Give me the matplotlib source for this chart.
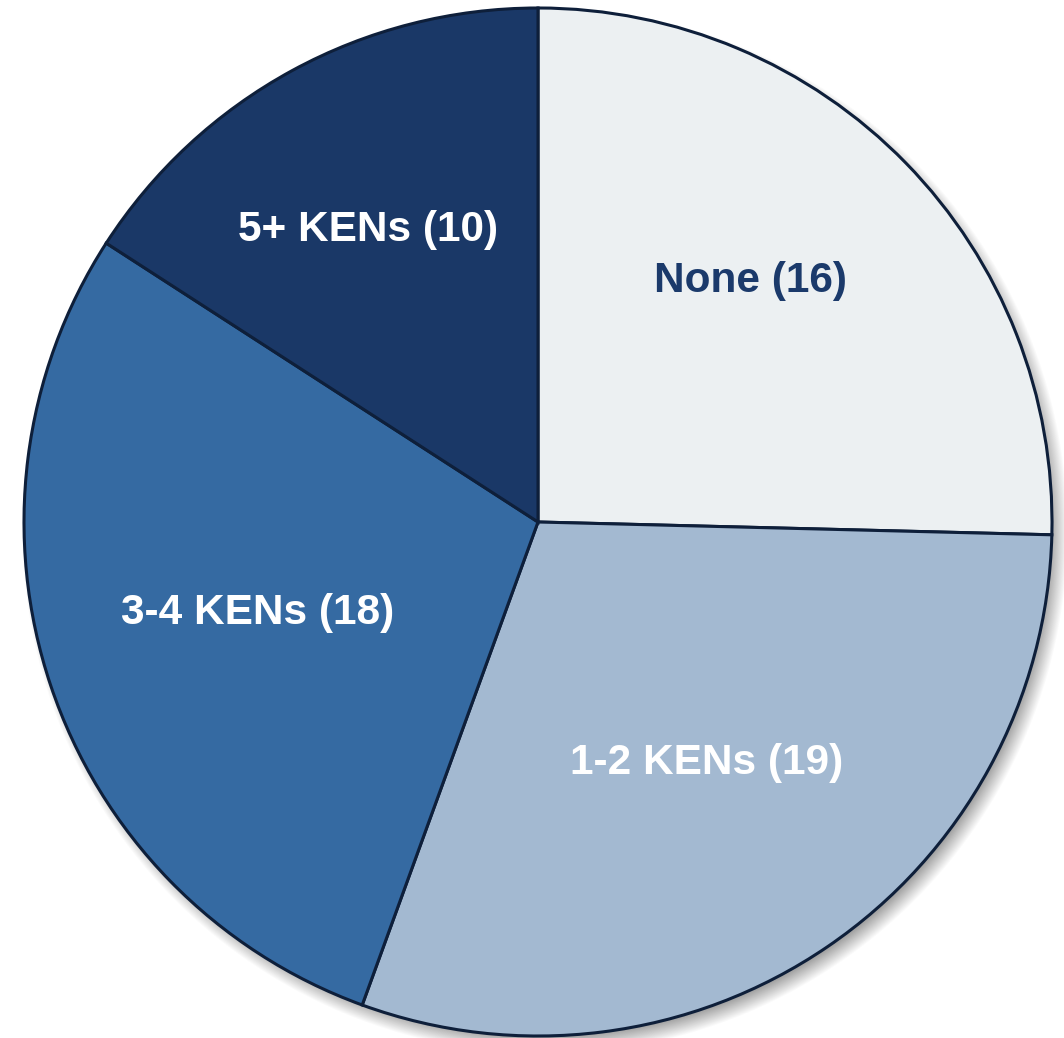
import numpy as np
import matplotlib
matplotlib.use("Agg")
import matplotlib.pyplot as plt

# Data
categories = ["None", "1-2 KENs", "3-4 KENs", "5+ KENs"]
counts = [16, 19, 18, 10]

# Styles
colors = ["#ECF0F2", "#A3B9D1", "#356AA2", "#1A3867"]
text_colors = ["#1B3A6B", "white", "white", "white"]
label_r = [0.629, 0.568, 0.571, 0.662]
label_dang = [4.7, 1.1, -1.2, 1.4]
edge = "#0E1F3A"

W, H = 1064, 1038
fig = plt.figure(figsize=(W / 100, H / 100), dpi=100)
ax = fig.add_axes([0, 0, 1, 1])

cx, cy, R = 538, 516, 514

# soft drop shadow
yy, xx = np.mgrid[0:H, 0:W] + 0.5
d = np.hypot(xx - (cx + 7), yy - (cy - 9))
w = 9.0
a = 0.55 * np.clip((R + w - d) / (2 * w), 0, 1)
shadow = np.zeros((H, W, 4))
shadow[..., :3] = 0.35
shadow[..., 3] = a
ax.imshow(shadow, extent=(0, W, 0, H), origin="lower", zorder=0, interpolation="bilinear")

wedges, _ = ax.pie(counts, colors=colors, startangle=90, counterclock=False,
                   center=(cx, cy), radius=R,
                   wedgeprops=dict(edgecolor=edge, linewidth=2.2, zorder=2))

for wdg, cat, n, tc, lr, da in zip(wedges, categories, counts, text_colors, label_r, label_dang):
    mid = np.deg2rad((wdg.theta1 + wdg.theta2) / 2 + da)
    x = cx + lr * R * np.cos(mid)
    y = cy + lr * R * np.sin(mid) - 3
    ax.text(x, y, f"{cat} ({n})", ha="center", va="center", color=tc,
            fontsize=30.5, fontweight="bold", family="Liberation Sans", zorder=5)

ax.set_xlim(0, W)
ax.set_ylim(0, H)
ax.set_aspect("equal")
ax.axis("off")
fig.savefig("out.png", dpi=100, facecolor="white")
